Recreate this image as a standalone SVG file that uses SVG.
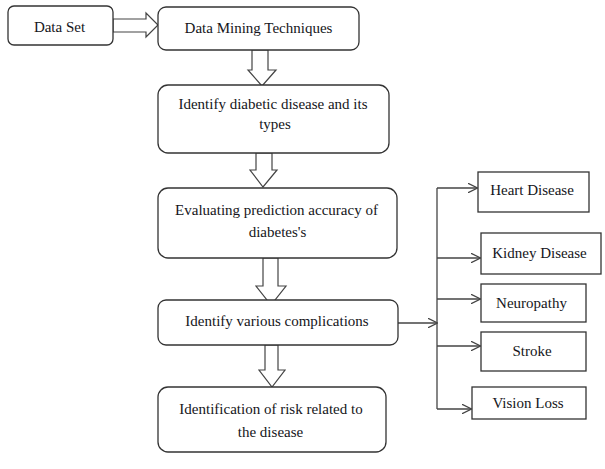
<svg xmlns="http://www.w3.org/2000/svg" width="605" height="469" viewBox="0 0 605 469">
<defs>
<style>
.box{fill:#fff;stroke:#333;stroke-width:1.3}
.blk{fill:#fff;stroke:#444;stroke-width:1.2;stroke-linejoin:miter}
.ln{fill:none;stroke:#444;stroke-width:1.3}
</style>
<marker id="ah" viewBox="0 0 10 10" refX="9.5" refY="5" markerWidth="10" markerHeight="10" markerUnits="userSpaceOnUse" orient="auto">
<path d="M0,0 L10,5 L0,10" fill="none" stroke="#444" stroke-width="1.3"/>
</marker>
</defs>
<rect width="605" height="469" fill="#fff"/>
<g id="connectors">
<path class="blk" d="M113,19 H146 V13 L158,25 L146,37 V32 H113 Z"/>
<path class="blk" d="M252,50 V70 H248 L262,86 L276,70 H268 V50 Z"/>
<path class="blk" d="M256,153 V170 H250 L263,187 L277,170 H272 V153 Z"/>
<path class="blk" d="M263,258 V286 H256 L271,305 L286,286 H278 V258 Z"/>
<path class="blk" d="M265,345 V370 H259 L272,387 L285,370 H278 V345 Z"/>
<path class="ln" d="M437,188 V409"/>
<path class="ln" d="M398,323 H437" marker-end="url(#ah)"/>
<path class="ln" d="M437,188 H477" marker-end="url(#ah)"/>
<path class="ln" d="M437,258 H480" marker-end="url(#ah)"/>
<path class="ln" d="M437,299 H480" marker-end="url(#ah)"/>
<path class="ln" d="M437,346 H480" marker-end="url(#ah)"/>
<path class="ln" d="M437,409 H471" marker-end="url(#ah)"/>
</g>
<g id="dataset">
<rect class="box" x="8" y="6" width="105" height="39" rx="6"/>
<text font-family="Liberation Serif" font-size="15" fill="#151520" text-anchor="middle" x="59.5" y="32">Data Set</text>
</g>
<g id="dmt">
<rect class="box" x="158" y="7" width="201" height="43" rx="8"/>
<text font-family="Liberation Serif" font-size="15" fill="#151520" text-anchor="middle" x="258.5" y="33">Data Mining Techniques</text>
</g>
<g id="identify-types">
<rect class="box" x="158" y="85" width="231" height="68" rx="10"/>
<text font-family="Liberation Serif" font-size="15" fill="#151520" text-anchor="middle" x="273" y="109">Identify diabetic disease and its</text>
<text font-family="Liberation Serif" font-size="15" fill="#151520" text-anchor="middle" x="275" y="129">types</text>
</g>
<g id="evaluating">
<rect class="box" x="158" y="188" width="239" height="70" rx="10"/>
<text font-family="Liberation Serif" font-size="15" fill="#151520" text-anchor="middle" x="276.5" y="215">Evaluating prediction accuracy of</text>
<text font-family="Liberation Serif" font-size="15" fill="#151520" text-anchor="middle" x="277.5" y="237">diabetes's</text>
</g>
<g id="complications">
<rect class="box" x="158" y="300" width="240" height="45" rx="8"/>
<text font-family="Liberation Serif" font-size="15" fill="#151520" text-anchor="middle" x="277" y="326">Identify various complications</text>
</g>
<g id="risk">
<rect class="box" x="158" y="387" width="228" height="65" rx="10"/>
<text font-family="Liberation Serif" font-size="15" fill="#151520" text-anchor="middle" x="271" y="414">Identification of risk related to</text>
<text font-family="Liberation Serif" font-size="15" fill="#151520" text-anchor="middle" x="270.5" y="437">the disease</text>
</g>
<g id="heart">
<rect class="box" x="478" y="172" width="111" height="40"/>
<text font-family="Liberation Serif" font-size="15" fill="#151520" text-anchor="middle" x="532" y="195">Heart Disease</text>
</g>
<g id="kidney">
<rect class="box" x="481" y="233" width="120" height="41"/>
<text font-family="Liberation Serif" font-size="15" fill="#151520" text-anchor="middle" x="539.5" y="258">Kidney Disease</text>
</g>
<g id="neuropathy">
<rect class="box" x="481" y="284" width="105" height="38"/>
<text font-family="Liberation Serif" font-size="15" fill="#151520" text-anchor="middle" x="531.5" y="308">Neuropathy</text>
</g>
<g id="stroke">
<rect class="box" x="481" y="332" width="105" height="39"/>
<text font-family="Liberation Serif" font-size="15" fill="#151520" text-anchor="middle" x="532" y="356">Stroke</text>
</g>
<g id="vision">
<rect class="box" x="472" y="387" width="114" height="32"/>
<text font-family="Liberation Serif" font-size="15" fill="#151520" text-anchor="middle" x="528" y="408">Vision Loss</text>
</g>
</svg>
